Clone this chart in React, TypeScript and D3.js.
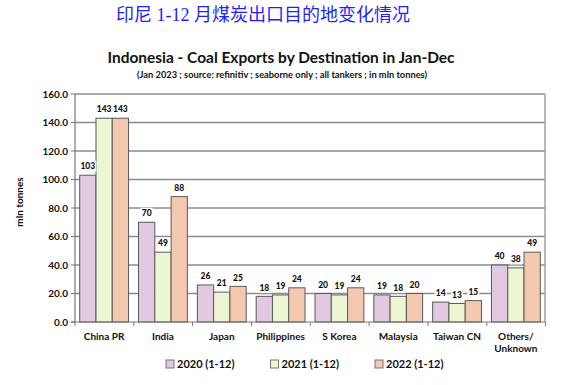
import React from 'react';
import * as d3 from 'd3';

// categories + series (mln tonnes)
const destinations = ['China PR', 'India', 'Japan', 'Philippines', 'S Korea', 'Malaysia', 'Taiwan CN', 'Others/\nUnknown'];
const seriesNames = ['2020 (1-12)', '2021 (1-12)', '2022 (1-12)'];
const values2020 = [103, 70, 26, 18, 20, 19, 14, 40];
const values2021 = [143, 49, 21, 19, 19, 18, 13, 38];
const values2022 = [143, 88, 25, 24, 24, 20, 15, 49];
const yTicks = [0, 20, 40, 60, 80, 100, 120, 140, 160];
const colors = ['#e2c9e1', '#ecf6d3', '#f4c8ae'];

const W = 575;
const H = 385;
const margin = {left: 75, right: 30, top: 94, bottom: 63};
const font = "Lato, 'Liberation Sans', sans-serif";

const App = () => {
    const series = [values2020, values2021, values2022];

    const x = d3.scaleBand()
        .domain(destinations)
        .range([margin.left, W - margin.right])
        .paddingInner(0.17)
        .paddingOuter(0.08);
    const xSub = d3.scaleBand()
        .domain(seriesNames)
        .range([0, x.bandwidth()]);
    const y = d3.scaleLinear()
        .domain([0, 160])
        .range([H - margin.bottom, margin.top]);

    const left = margin.left;
    const right = W - margin.right;
    const bottom = y(0);
    const top = y(160);

    // band boundaries for the bottom ticks
    const step = x.step();
    const boundaries = d3.range(destinations.length + 1).map(i => left + i * step);

    // label positions
    const labels = destinations.flatMap((d, i) => series.map((s, j) => ({
        key: `${i}-${j}`,
        cx: x(d) + xSub(seriesNames[j]) + xSub.bandwidth() / 2,
        cy: y(s[i]) - 9,
        text: String(s[i]),
    })));

    return (
        <svg width={W} height={H} style={{position: 'absolute', left: 0, top: 0, background: '#fff'}}>
            <text x={263} y={21} textAnchor="middle" fill="#1f1fff" fontSize={18}
                  fontFamily="'Liberation Serif', 'Noto Sans CJK SC', serif">印尼 1-12 月煤炭出口目的地变化情况</text>

            <text x={281} y={63} textAnchor="middle" fontSize={16} fontWeight="bold" fontFamily={font}
                  fill="#111" textLength={347} lengthAdjust="spacingAndGlyphs">
                Indonesia - Coal Exports by Destination in Jan-Dec
            </text>
            <text x={282} y={78} textAnchor="middle" fontSize={9.5} fontWeight="bold" fontFamily={font}
                  fill="#111" textLength={290} lengthAdjust="spacingAndGlyphs">
                (Jan 2023 ; source: refinitiv ; seaborne only ; all tankers ; in mln tonnes)
            </text>

            {/* gridlines */}
            {yTicks.map(t => (
                <g key={t}>
                    {t > 0 && <line x1={left} x2={right} y1={y(t)} y2={y(t)} stroke="#8c8c8c" strokeWidth={1.5}/>}
                    <line x1={left - 4} x2={left} y1={y(t)} y2={y(t)} stroke="#777" strokeWidth={1}/>
                    <text x={68} y={y(t) + 3.5} textAnchor="end" fontSize={10} fontWeight="bold"
                          fontFamily={font} fill="#111">{t.toFixed(1)}</text>
                </g>
            ))}
            <line x1={right} x2={right} y1={top} y2={bottom} stroke="#a0a0a0" strokeWidth={1.5}/>

            <text transform={`translate(23,${(top + bottom) / 2 - 6}) rotate(-90)`} textAnchor="middle"
                  fontSize={10} fontWeight="bold" fontFamily={font} fill="#111">mln tonnes</text>

            {/* bars */}
            {destinations.map((d, i) => (
                <g key={d} transform={`translate(${x(d)},0)`}>
                    {series.map((s, j) => (
                        <rect key={j} x={xSub(seriesNames[j])} y={y(s[i])}
                              width={xSub.bandwidth()} height={bottom - y(s[i])}
                              fill={colors[j]} stroke="#5a5a5a" strokeWidth={1}/>
                    ))}
                </g>
            ))}

            {/* value labels: white boxes first, then the numbers */}
            {labels.map(l => {
                const w = l.text.length * 5 + 2;
                return <rect key={l.key} x={l.cx - w / 2} y={l.cy - 5.5} width={w} height={11} fill="#fff"/>;
            })}
            {labels.map(l => (
                <text key={l.key} x={l.cx} y={l.cy + 3.2} textAnchor="middle" fontSize={8.5} fontWeight="900"
                      fontFamily={font} fill="#111">{l.text}</text>
            ))}

            {/* axes */}
            <line x1={left} x2={left} y1={top} y2={bottom} stroke="#777" strokeWidth={1.2}/>
            <line x1={left - 4} x2={right} y1={bottom} y2={bottom} stroke="#777" strokeWidth={1.2}/>
            {boundaries.map((b, i) => (
                <line key={i} x1={b} x2={b} y1={bottom} y2={bottom + 4} stroke="#777" strokeWidth={1}/>
            ))}

            {destinations.map(d => (
                <text key={d} textAnchor="middle" fontSize={10} fontWeight="bold" fontFamily={font} fill="#111">
                    {d.split('\n').map((line, k) => (
                        <tspan key={k} x={x(d) + x.bandwidth() / 2} y={340 + k * 12}>{line}</tspan>
                    ))}
                </text>
            ))}

            {/* legend */}
            {seriesNames.map((name, j) => {
                const lx = 166 + j * 104.5;
                return (
                    <g key={name}>
                        <rect x={lx} y={360} width={8} height={8} fill={colors[j]} stroke="#777" strokeWidth={1}/>
                        <text x={lx + 11} y={368} fontSize={11} fontWeight="bold" fontFamily={font}
                              fill="#111">{name}</text>
                    </g>
                );
            })}
        </svg>
    );
};

export default App;
